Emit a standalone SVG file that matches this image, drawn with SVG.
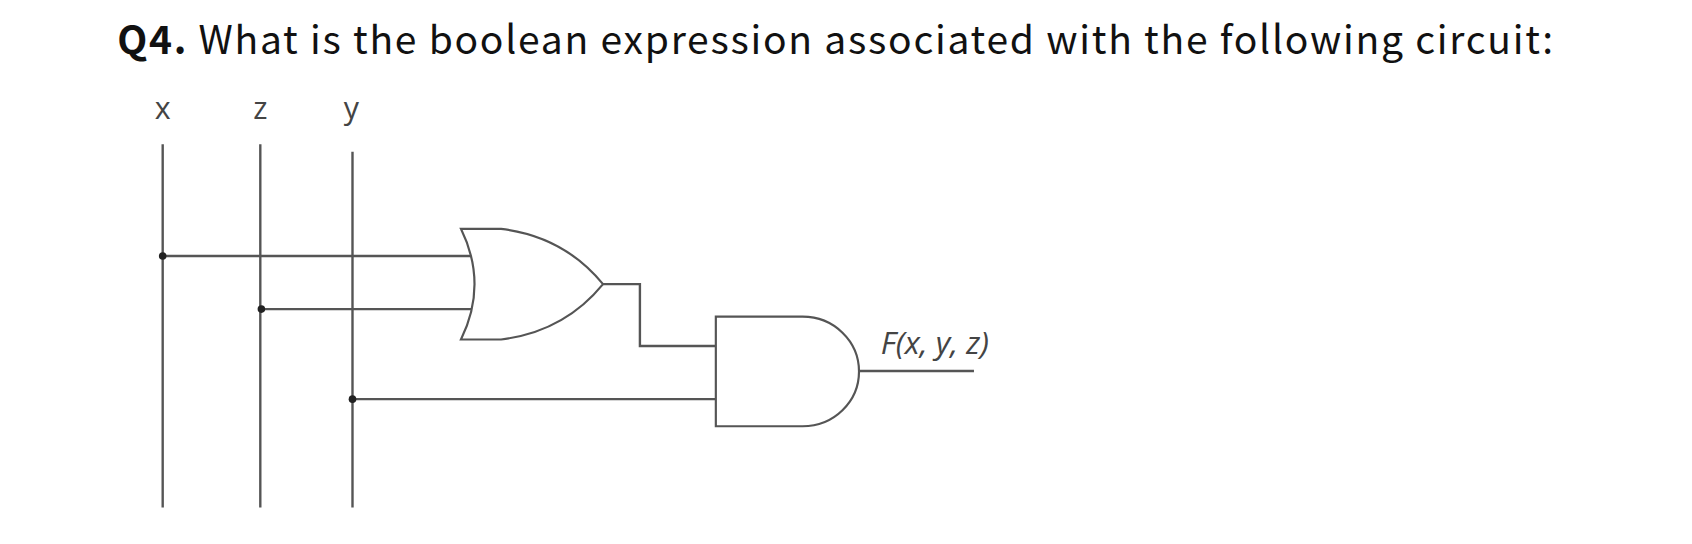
<svg xmlns="http://www.w3.org/2000/svg" width="1692" height="544" viewBox="0 0 1692 544">
<style>
.w{stroke:#555;stroke-width:2.2;fill:none}
.g{stroke:#555;stroke-width:2;fill:#fff}
.lbl{font-family:"Open Sans","DejaVu Sans",sans-serif;font-size:28px;fill:#444}
.dot{fill:#222}
</style>
<rect width="1692" height="544" fill="#fff"/>
<g transform="scale(1.0846)">
<g id="title"><text x="108" y="50" font-family="'Noto Sans CJK JP','Noto Sans',sans-serif" font-size="36" fill="#111" textLength="1324" lengthAdjust="spacing"><tspan font-weight="bold">Q4.</tspan> What is the boolean expression associated with the following circuit:</text></g>
<g id="input-x"><text class="lbl" x="150" y="110" text-anchor="middle">x</text></g>
<g id="input-z"><text class="lbl" x="240" y="110" text-anchor="middle">z</text></g>
<g id="input-y"><text class="lbl" x="324" y="110" text-anchor="middle">y</text></g>
<g id="connectors">
<path class="w" d="M150 133V468M240 133V468M325 140V468"/>
<path class="w" d="M150 236H437M241 285H436M325 368H660"/>
<path class="w" d="M556 262H590V319H660M792 342H898"/>
<circle class="dot" cx="150" cy="236" r="3.5"/><circle class="dot" cx="241" cy="285" r="3.5"/><circle class="dot" cx="325" cy="368" r="3.5"/>
</g>
<g id="or-gate"><path class="g" d="M425 211H462Q520 218 556 262Q520 306 462 313H425Q450 262 425 211Z"/></g>
<g id="and-gate"><path class="g" d="M660 292H740A52 50.5 0 0 1 740 393H660Z"/></g>
<g id="output"><text x="812" y="326" font-family="'Open Sans','DejaVu Sans',sans-serif" font-style="italic" font-size="29" fill="#444">F(x, y, z)</text></g>
</g>
</svg>
